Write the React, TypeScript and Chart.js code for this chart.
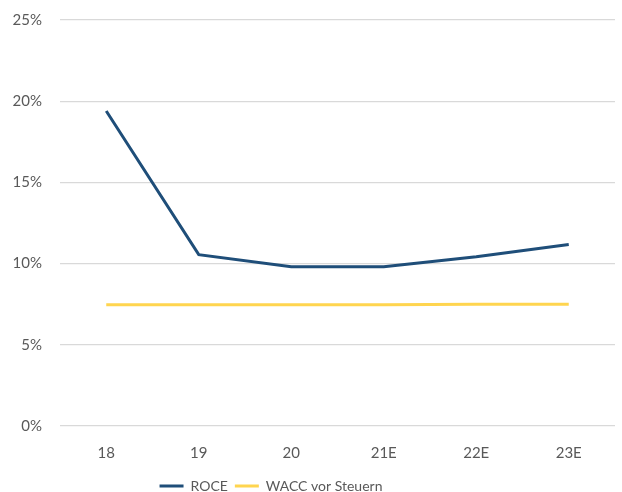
import React, { useEffect, useRef } from "react";
import { Chart, registerables } from "chart.js";

Chart.register(...registerables);

const categories = ["18", "19", "20", "21E", "22E", "23E"];
const roce = [19.4, 10.55, 9.8, 9.8, 10.42, 11.18];
const wacc = [7.46, 7.46, 7.46, 7.46, 7.5, 7.5];
const yTicks = [0, 5, 10, 15, 20, 25];

const legendShift = {
  id: "legendShift",
  afterLayout(chart: any) {
    const lg = chart.legend;
    if (!lg) return;
    const target = 271;
    const cur = (lg.left + lg.right) / 2;
    const d = target - cur;
    lg.left += d;
    lg.right += d;
    if (lg.legendHitBoxes) lg.legendHitBoxes.forEach((b: any) => (b.left += d));
  },
};

export default function App() {
  const ref = useRef<HTMLCanvasElement>(null);
  useEffect(() => {
    document.body.style.margin = "0";
    document.body.style.overflow = "hidden";
    document.documentElement.style.overflow = "hidden";
    const ctx = ref.current!;
    const chart = new Chart(ctx, {
      type: "line",
      data: {
        labels: categories,
        datasets: [
          {
            label: "ROCE",
            data: roce,
            borderColor: "#1F4E79",
            backgroundColor: "#1F4E79",
            borderWidth: 3,
            pointRadius: 0,
            tension: 0,
          },
          {
            label: "WACC vor Steuern",
            data: wacc,
            borderColor: "#FFD54F",
            backgroundColor: "#FFD54F",
            borderWidth: 3,
            pointRadius: 0,
            tension: 0,
          },
        ],
      },
      plugins: [legendShift],
      options: {
        animation: false,
        responsive: false,
        layout: { padding: { left: 0, right: 7, top: 0, bottom: 0 } },
        font: { family: "Lato" },
        plugins: {
          tooltip: { enabled: false },
          legend: {
            position: "bottom",
            labels: {
              usePointStyle: true,
              pointStyle: "line",
              pointStyleWidth: 24,
              boxWidth: 24,
              padding: 7,
              color: "#595959",
              font: { family: "Lato", size: 14 },
              generateLabels: (c: any) =>
                c.data.datasets.map((d: any, i: number) => ({
                  text: d.label,
                  fillStyle: d.borderColor,
                  strokeStyle: d.borderColor,
                  lineWidth: 3,
                  pointStyle: "line",
                  hidden: false,
                  datasetIndex: i,
                  fontColor: "#595959",
                })),
            },
          },
        },
        scales: {
          x: {
            offset: true,
            grid: { display: false },
            border: { display: false },
            ticks: { color: "#595959", font: { family: "Lato", size: 15 }, padding: 10 },
          },
          y: {
            min: 0,
            max: 25,
            afterBuildTicks: (axis: any) => {
              axis.ticks = yTicks.map((v) => ({ value: v }));
            },
            afterFit: (axis: any) => {
              axis.width = 60;
              axis.paddingTop = 20;
            },
            grid: { color: "#D9D9D9", lineWidth: 1.3, drawTicks: false },
            border: { display: false },
            ticks: {
              color: "#595959",
              font: { family: "Lato", size: 15 },
              padding: 18,
              callback: (v: any) => v + "%",
            },
          },
        },
      },
    });
    return () => chart.destroy();
  }, []);
  return <canvas ref={ref} width={622} height={503} style={{ display: "block" }} />;
}
